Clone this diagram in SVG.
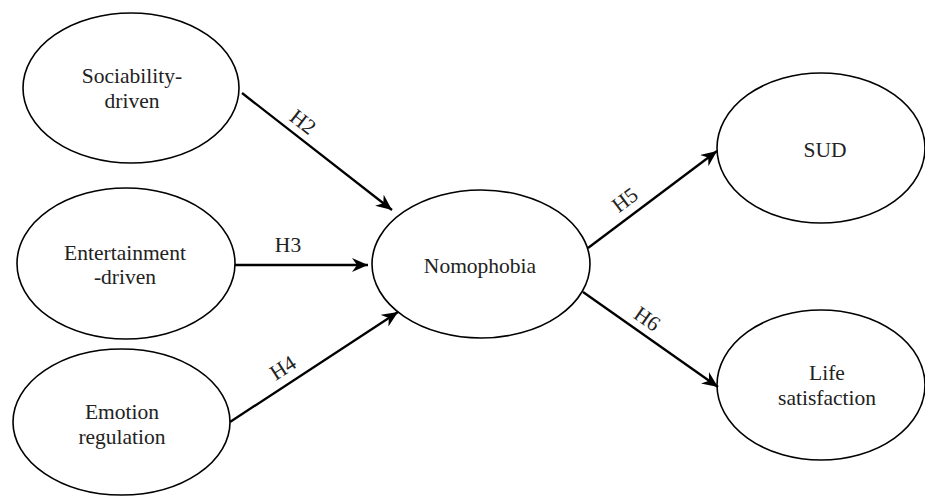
<svg xmlns="http://www.w3.org/2000/svg" width="925" height="496" viewBox="0 0 925 496">
<style>
.node ellipse{fill:#fff;stroke:#000;stroke-width:1.6}
text{font-family:"Liberation Serif","Times New Roman",serif;font-size:21.5px;fill:#222;text-anchor:middle}
.conn line{stroke:#000;stroke-width:2.3}
.lbl{dominant-baseline:central}
</style>
<defs>
<marker id="arr" viewBox="0 0 16 14" refX="16" refY="7" markerWidth="16" markerHeight="14" markerUnits="userSpaceOnUse" orient="auto">
<path d="M0,0 L16,7 L0,14 L5,7 Z" fill="#000"/>
</marker>
</defs>
<g id="sociability" class="node">
<ellipse cx="131" cy="88" rx="108" ry="75"/>
<text x="132" y="83">Sociability-</text>
<text x="132" y="108">driven</text>
</g>
<g id="entertainment" class="node">
<ellipse cx="126" cy="263.5" rx="109" ry="75.5"/>
<text x="125" y="260">Entertainment</text>
<text x="125" y="284">-driven</text>
</g>
<g id="emotion" class="node">
<ellipse cx="121.5" cy="422" rx="108.5" ry="73"/>
<text x="122" y="419">Emotion</text>
<text x="122" y="444">regulation</text>
</g>
<g id="nomophobia" class="node">
<ellipse cx="481" cy="264" rx="109" ry="74"/>
<text x="480" y="273">Nomophobia</text>
</g>
<g id="sud" class="node">
<ellipse cx="821" cy="148" rx="104" ry="75"/>
<text x="825" y="157">SUD</text>
</g>
<g id="life" class="node">
<ellipse cx="821" cy="385" rx="104" ry="75"/>
<text x="827" y="380">Life</text>
<text x="827" y="405">satisfaction</text>
</g>
<g id="connectors" class="conn">
<line x1="242" y1="93" x2="392" y2="210" marker-end="url(#arr)"/>
<line x1="235" y1="265" x2="368" y2="265" marker-end="url(#arr)"/>
<line x1="230" y1="422" x2="398" y2="312" marker-end="url(#arr)"/>
<line x1="588" y1="248" x2="717" y2="151" marker-end="url(#arr)"/>
<line x1="583" y1="292" x2="718" y2="387" marker-end="url(#arr)"/>
<text class="lbl" x="303" y="122" transform="rotate(38 303 122)">H2</text>
<text x="288" y="252">H3</text>
<text class="lbl" x="283" y="368" transform="rotate(-33 283 368)">H4</text>
<text class="lbl" x="625" y="200" transform="rotate(-37 625 200)">H5</text>
<text class="lbl" x="647" y="319" transform="rotate(35 647 319)">H6</text>
</g>
</svg>
